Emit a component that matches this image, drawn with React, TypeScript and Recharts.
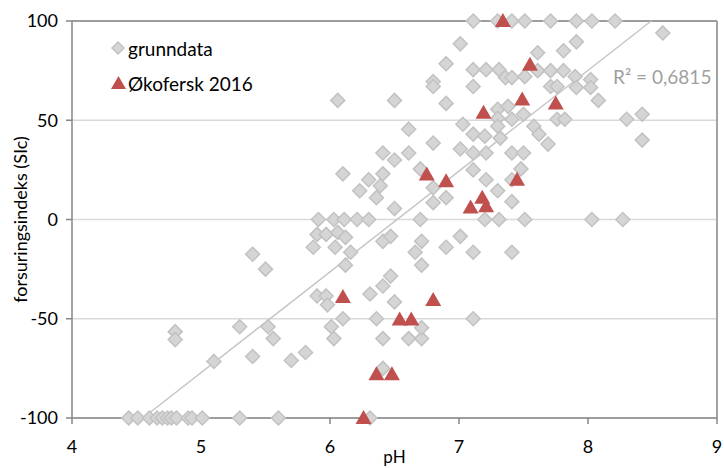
import {
  ScatterChart,
  Scatter,
  XAxis,
  YAxis,
  CartesianGrid,
  ReferenceLine,
} from "recharts";

// grunndata (pH, SIc)
const grunnPH = [
  7.11, 7.3, 7.41, 7.51, 7.71, 7.91, 8.03, 8.21,
  8.58, 7.01, 7.91, 7.61, 7.81, 6.9, 7.11, 7.21, 7.31, 7.61, 7.71, 7.81,
  7.36, 7.41, 7.51, 7.9, 8.02, 6.8, 6.8, 7.11, 7.71, 7.76, 7.91, 8.02,
  6.06, 6.5, 6.9, 8.08, 7.3, 7.38, 7.3, 7.5, 7.41, 7.3, 7.76, 7.82, 8.3, 8.42, 8.42,
  6.61, 7.03, 7.11, 7.2, 7.32, 7.58, 7.62, 7.69, 6.8,
  7.01, 7.11, 7.21, 7.41, 7.5, 6.41, 6.5, 6.61,
  6.1, 6.3, 6.41, 6.39, 6.23, 6.36, 6.5, 6.7, 6.8, 6.8, 6.9, 7.11, 7.21, 7.3, 7.41, 7.48, 7.41,
  5.91, 6.03, 6.11, 6.21, 6.3, 6.7, 7.2, 7.31, 7.51, 8.03, 8.27,
  5.9, 5.97, 6.06, 6.12, 5.87, 6.04, 6.16, 6.12, 6.41, 6.47, 6.71, 6.66, 6.71, 6.9, 7.01, 7.11, 7.41, 5.4, 5.5,
  5.9, 5.97, 5.98, 6.31, 6.41, 6.47, 6.5, 6.1, 6.36, 7.11, 5.3, 5.52, 6.01, 5.56, 6.03, 6.41, 6.61, 6.71, 6.71,
  4.8, 4.8, 5.1, 5.7, 5.4, 5.81, 6.41,
  4.44, 4.51, 4.6, 4.66, 4.7, 4.74, 4.77, 4.81, 4.9, 4.93, 5.01, 5.3, 5.6, 6.31,
];
const grunnSIc = [
  100, 100, 100, 100, 100, 100, 100, 100,
  94, 88.5, 89.5, 84, 85, 78.5, 75.5, 75.5, 75.5, 75, 75, 75,
  71.5, 71.5, 72, 72, 70.5, 69.5, 67, 67, 67, 67, 66.5, 66.5,
  60, 60, 58.5, 60, 55.5, 57, 51, 53, 50.5, 47, 50.5, 50.5, 50.5, 53, 40,
  45.5, 48, 43, 42, 41, 47, 43, 38, 38.5,
  35.5, 33.5, 33.5, 33.5, 33.5, 33.5, 30, 33.5,
  23, 20, 23, 17, 14.5, 11, 5.5, 25.5, 16, 8.5, 11, 25, 20, 14.5, 20, 25.5, 9,
  0, 0, 0, 0, 0, 0, 0, 0, 0, 0, 0,
  -7.5, -7.5, -6.5, -9, -14, -14, -16.5, -23, -11, -8.5, -11, -16.5, -23, -14, -8.5, -16.5, -16.5, -17.5, -25,
  -38.5, -38.5, -43, -37.5, -33.5, -28.5, -41.5, -50, -50, -50, -54, -54, -54, -60, -60, -60, -60, -60, -54.5,
  -56.5, -60.5, -71.5, -71, -69, -67, -75,
  -100, -100, -100, -100, -100, -100, -100, -100, -100, -100, -100, -100, -100, -100,
];

// Økofersk 2016 (pH, SIc)
const okoPH = [
  7.34, 7.55, 7.49, 7.75, 7.19, 6.75, 6.9, 7.45, 7.09, 7.18, 7.21,
  6.1, 6.8, 6.54, 6.63, 6.36, 6.48, 6.26,
];
const okoSIc = [
  100, 78, 60.5, 58.5, 53.8, 22.7, 19.3, 20, 6, 11, 6.7,
  -39, -40.5, -50.4, -50.4, -78, -78, -100,
];

const xTicks = [4, 5, 6, 7, 8, 9];
const yTicks = [-100, -50, 0, 50, 100];

// lineær trendlinje for grunndata
const trendSlope = 50.76;
const trendIntercept = -330.96;
const rSquared = "0,6815";

const grunnData = grunnPH.map((x, i) => ({ x, y: grunnSIc[i] }));
const okoData = okoPH.map((x, i) => ({ x, y: okoSIc[i] }));

const trendStart = (-100 - trendIntercept) / trendSlope;
const trendEnd = (100 - trendIntercept) / trendSlope;

const FONT = "Lato, 'DejaVu Sans', sans-serif";
const AXIS = "#868686";

const Diamond = ({ cx, cy }: any) => (
  <path
    d={`M${cx},${cy - 7} L${cx + 7},${cy} L${cx},${cy + 7} L${cx - 7},${cy} Z`}
    fill="#d5d5d5"
    stroke="#c2c2c2"
    strokeWidth={1.5}
  />
);

const Triangle = ({ cx, cy }: any) => (
  <path
    d={`M${cx},${cy - 8} L${cx + 8},${cy + 6} L${cx - 8},${cy + 6} Z`}
    fill="#c0504d"
  />
);

const App = () => {
  return (
    <div
      style={{
        position: "absolute",
        left: 0,
        top: 0,
        width: 724,
        height: 468,
        background: "#fff",
        fontFamily: FONT,
        overflow: "hidden",
      }}
    >
      <ScatterChart
        width={724}
        height={468}
        margin={{ top: 21, right: 7, bottom: 0, left: 12 }}
      >
        <CartesianGrid vertical={false} stroke="#d9d9d9" strokeWidth={1.5} />
        <XAxis
          type="number"
          dataKey="x"
          domain={[4, 9]}
          ticks={xTicks}
          height={50}
          tickSize={6}
          tickMargin={16}
          axisLine={{ stroke: AXIS, strokeWidth: 1.5 }}
          tickLine={{ stroke: AXIS, strokeWidth: 1.5 }}
          tick={{ fill: "#000", fontSize: 18, fontFamily: FONT }}
          label={(props: any) => {
            const vb = props.viewBox;
            return (
              <text
                x={vb.x + vb.width / 2}
                y={vb.y + 38}
                textAnchor="middle"
                dominantBaseline="central"
                fontSize={17}
                fontFamily={FONT}
                fill="#000"
              >
                pH
              </text>
            );
          }}
        />
        <YAxis
          type="number"
          dataKey="y"
          domain={[-100, 100]}
          ticks={yTicks}
          width={60}
          tickSize={6}
          tickMargin={8}
          axisLine={{ stroke: AXIS, strokeWidth: 1.5 }}
          tickLine={{ stroke: AXIS, strokeWidth: 1.5 }}
          tick={{ fill: "#000", fontSize: 18, fontFamily: FONT }}
          label={(props: any) => {
            const vb = props.viewBox;
            const x = vb.x + 8;
            const y = vb.y + vb.height / 2;
            return (
              <text
                x={x}
                y={y}
                transform={`rotate(-90 ${x} ${y})`}
                textAnchor="middle"
                dominantBaseline="central"
                fontSize={18}
                fontFamily={FONT}
                fill="#000"
              >
                forsuringsindeks (SIc)
              </text>
            );
          }}
        />
        <ReferenceLine y={100} stroke={AXIS} strokeWidth={1.5} />
        <ReferenceLine x={9} stroke={AXIS} strokeWidth={1.5} />
        <Scatter
          name="grunndata"
          data={grunnData}
          shape={Diamond}
          isAnimationActive={false}
        />
        <ReferenceLine
          segment={[
            { x: trendStart, y: -100 },
            { x: trendEnd, y: 100 },
          ]}
          stroke="#c6c6c6"
          strokeWidth={1.5}
        />
        <Scatter
          name="Økofersk 2016"
          data={okoData}
          shape={Triangle}
          isAnimationActive={false}
        />
      </ScatterChart>

      {/* Legend */}
      <div style={{ position: "absolute", left: 110, top: 36, fontSize: 19, color: "#000" }}>
        <div style={{ display: "flex", alignItems: "center", height: 24 }}>
          <svg width={17} height={16}>
            <path d="M8,2 L14,8 L8,14 L2,8 Z" fill="#d5d5d5" stroke="#c2c2c2" strokeWidth={1.5} />
          </svg>
          <span style={{ marginLeft: 1 }}>grunndata</span>
        </div>
        <div style={{ display: "flex", alignItems: "center", height: 24, marginTop: 11 }}>
          <svg width={17} height={16}>
            <path d="M8.5,1 L16,14 L1,14 Z" fill="#c0504d" />
          </svg>
          <span style={{ marginLeft: 1 }}>Økofersk 2016</span>
        </div>
      </div>

      {/* R² */}
      <div
        style={{
          position: "absolute",
          left: 613,
          top: 65,
          fontSize: 19,
          lineHeight: "24px",
          color: "#a0a0a0",
        }}
      >
        R² = {rSquared}
      </div>
    </div>
  );
};

export default App;
